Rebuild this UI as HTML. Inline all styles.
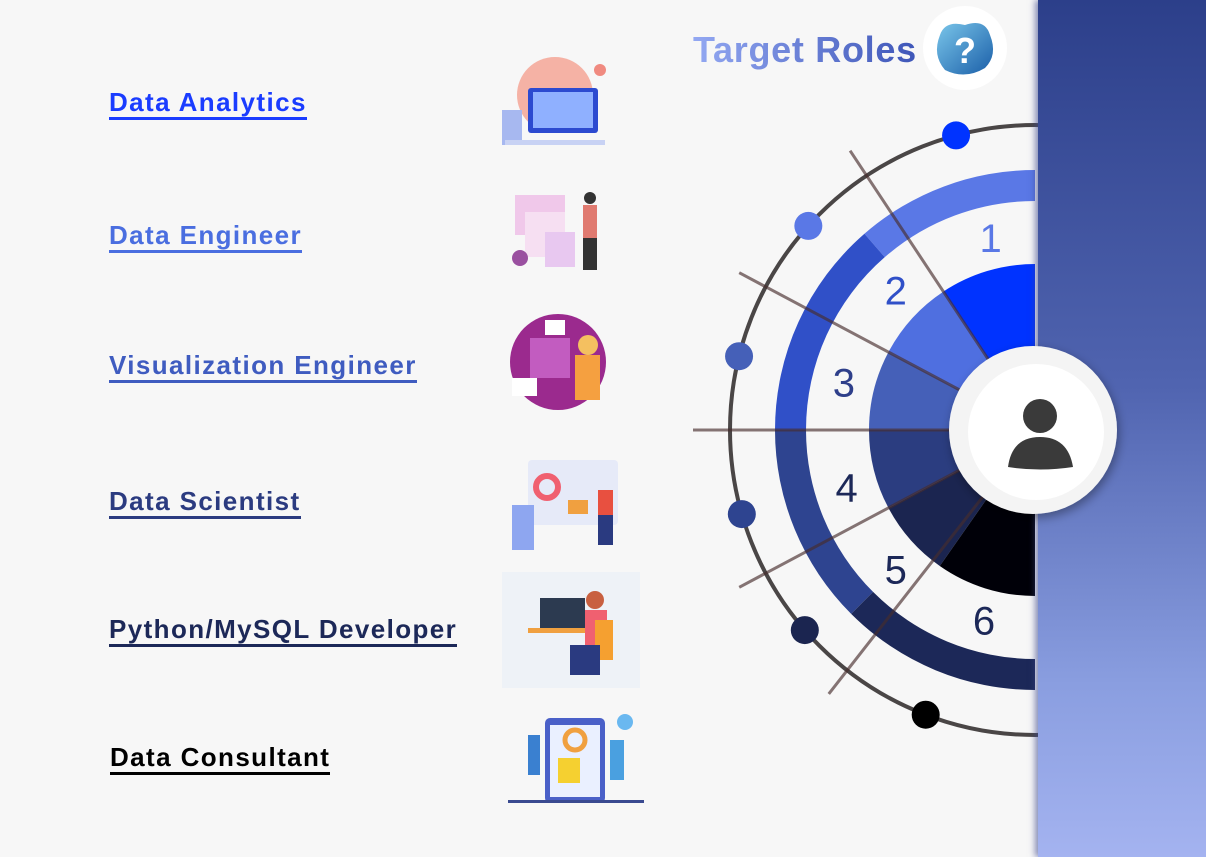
<!DOCTYPE html>
<html><head><meta charset="utf-8">
<style>
html,body{margin:0;padding:0;}
body{width:1206px;height:857px;background:#f7f7f7;position:relative;overflow:hidden;font-family:"Liberation Sans",sans-serif;}
.lbl{position:absolute;font-weight:bold;font-size:26px;letter-spacing:1.4px;white-space:nowrap;padding-bottom:1px;border-bottom:3px solid currentColor;line-height:28px;}
#panel{position:absolute;left:1038px;top:0;width:168px;height:857px;background:linear-gradient(#2c3f8a,#5064b0 45%,#8a9ee0 80%,#a4b3f0);box-shadow:-3px 0 6px rgba(60,70,140,0.6);}
svg{position:absolute;left:0;top:0;}
</style></head><body>
<div class="lbl" style="left:109px;top:88px;color:#1a3cff">Data Analytics</div>
<div class="lbl" style="left:109px;top:221px;color:#4a6ee0">Data Engineer</div>
<div class="lbl" style="left:109px;top:351px;color:#3f5cc0">Visualization Engineer</div>
<div class="lbl" style="left:109px;top:487px;color:#2b3b80">Data Scientist</div>
<div class="lbl" style="left:109px;top:615px;color:#1c2858">Python/MySQL Developer</div>
<div class="lbl" style="left:110px;top:743px;color:#000">Data Consultant</div>

<svg width="1206" height="857">
 <g>
  <circle cx="555" cy="95" r="38" fill="#f4a090" opacity="0.8"/>
  <rect x="528" y="88" width="70" height="45" rx="3" fill="#2c4ad0"/>
  <rect x="533" y="92" width="60" height="36" fill="#8fb0ff"/>
  <rect x="502" y="110" width="20" height="35" fill="#a7b8f0"/>
  <rect x="505" y="140" width="100" height="5" fill="#c8d2f4"/>
  <circle cx="600" cy="70" r="6" fill="#f08a80"/>
 </g>
 <g>
  <rect x="515" y="195" width="50" height="40" fill="#f0c8ea"/>
  <rect x="525" y="212" width="40" height="45" fill="#f6dff2"/>
  <rect x="545" y="232" width="30" height="35" fill="#e8c8f0"/>
  <rect x="583" y="205" width="14" height="35" fill="#e07a70"/>
  <rect x="583" y="238" width="14" height="32" fill="#333"/>
  <circle cx="590" cy="198" r="6" fill="#333"/>
  <circle cx="520" cy="258" r="8" fill="#9a50a0"/>
 </g>
 <g>
  <circle cx="558" cy="362" r="48" fill="#9b2a8e"/>
  <rect x="530" y="338" width="40" height="40" fill="#c25cc0"/>
  <rect x="575" y="355" width="25" height="45" fill="#f5a040"/>
  <circle cx="588" cy="345" r="10" fill="#f4c060"/>
  <rect x="512" y="378" width="25" height="18" fill="#fff"/>
  <rect x="545" y="320" width="20" height="15" fill="#fff"/>
 </g>
 <g>
  <rect x="528" y="460" width="90" height="65" rx="4" fill="#e6eaf8"/>
  <circle cx="547" cy="487" r="11" fill="none" stroke="#f06070" stroke-width="6"/>
  <rect x="568" y="500" width="20" height="14" fill="#f0a040"/>
  <rect x="512" y="505" width="22" height="45" fill="#8ea6f0"/>
  <rect x="598" y="490" width="15" height="25" fill="#e85040"/>
  <rect x="598" y="515" width="15" height="30" fill="#2a3a80"/>
 </g>
 <g>
  <rect x="502" y="572" width="138" height="116" fill="#eef2f7"/>
  <rect x="540" y="598" width="45" height="32" fill="#2c3a50"/>
  <rect x="528" y="628" width="80" height="5" fill="#f0a040"/>
  <circle cx="595" cy="600" r="9" fill="#c86040"/>
  <rect x="585" y="610" width="22" height="35" fill="#f06070"/>
  <rect x="595" y="620" width="18" height="40" fill="#f5a030"/>
  <rect x="570" y="645" width="30" height="30" fill="#2a3a80"/>
 </g>
 <g>
  <rect x="545" y="718" width="60" height="85" rx="5" fill="#4a60c8"/>
  <rect x="550" y="725" width="50" height="72" fill="#eaf0ff"/>
  <circle cx="575" cy="740" r="10" fill="none" stroke="#f0a040" stroke-width="5"/>
  <rect x="558" y="758" width="22" height="25" fill="#f5d030"/>
  <rect x="528" y="735" width="12" height="40" fill="#3a80d0"/>
  <rect x="610" y="740" width="14" height="40" fill="#4aa0e0"/>
  <circle cx="625" cy="722" r="8" fill="#6ab8f0"/>
  <rect x="508" y="800" width="136" height="3" fill="#3a4a90"/>
 </g>
</svg>

<svg id="wheel" width="1206" height="857"></svg>
<div id="panel"></div>
<svg id="top" width="1206" height="857" style="pointer-events:none">
 <defs>
  <linearGradient id="tg" x1="0" x2="1"><stop offset="0" stop-color="#93a8f2"/><stop offset="1" stop-color="#3e56b8"/></linearGradient>
  <linearGradient id="qg" x1="0" y1="0" x2="1" y2="1"><stop offset="0" stop-color="#7ac6ea"/><stop offset="1" stop-color="#1a5ea8"/></linearGradient>
  <filter id="sh" x="-30%" y="-30%" width="160%" height="160%"><feDropShadow dx="2" dy="4" stdDeviation="5" flood-color="#000" flood-opacity="0.35"/></filter>
 </defs>
 <text x="693" y="62" font-family="Liberation Sans, sans-serif" font-weight="bold" font-size="36" letter-spacing="0.7" fill="url(#tg)">Target Roles</text>
 <g>
  <circle cx="965" cy="48" r="42" fill="#fff"/>
  <path d="M940 35 Q945 20 965 25 Q985 18 990 35 Q998 55 985 68 Q965 80 945 70 Q932 55 940 35Z" fill="url(#qg)"/>
  <text x="965" y="63" text-anchor="middle" font-family="Liberation Sans, sans-serif" font-weight="bold" font-size="36" fill="#fff">?</text>
 </g>
 <g>
  <circle cx="1033" cy="430" r="84" fill="#f4f4f4" filter="url(#sh)"/>
  <circle cx="1036" cy="432" r="68" fill="#fff"/>
  <circle cx="1040" cy="416" r="17" fill="#3a3a3a"/>
  <path d="M1008 467 Q1012 437 1040 437 Q1068 437 1073 467 Q1040 472 1008 467Z" fill="#3a3a3a"/>
 </g>
</svg>

<script>
const roleNumbers = ["1","2","3","4","5","6"];
const sectorEdges = [0, 33.5, 62, 90, 118, 145, 180];
const sectorColors = ["#0033ff","#4f6fe0","#4560b8","#2b3d80","#1b2550","#000008"];
const ringEdges = [0, 41, 90, 135, 180];
const ringColors = ["#5a78e6","#3050c8","#2e4490","#1c2858"];
const numberAngles = [13, 45, 76, 107, 135, 165];
const numberColors = ["#5a78e6","#3050c8","#2e3f8a","#1c2858","#1c2858","#1c2858"];
const dotAngles = [15, 48, 76, 106, 131, 159];
const dotColors = ["#0033ff","#5a78e6","#4560b8","#2e4490","#1b2550","#000000"];
const lineAngles = [33.5, 62, 90, 118, 142];

const NS="http://www.w3.org/2000/svg", svg=document.getElementById('wheel');
const cx=1035, cy=430;
function pt(r,a){const t=a*Math.PI/180;return [cx-r*Math.sin(t), cy-r*Math.cos(t)];}
function mk(tag,attrs){const e=document.createElementNS(NS,tag);for(const k in attrs)e.setAttribute(k,attrs[k]);svg.appendChild(e);return e;}
function annulus(r0,r1,a0,a1){
 const p1=pt(r1,a0),p2=pt(r1,a1),p3=pt(r0,a1),p4=pt(r0,a0);
 const big=(a1-a0)>180?1:0;
 if(r0===0) return `M${cx} ${cy} L${p1} A${r1} ${r1} 0 ${big} 0 ${p2} Z`;
 return `M${p1} A${r1} ${r1} 0 ${big} 0 ${p2} L${p3} A${r0} ${r0} 0 ${big} 1 ${p4} Z`;
}
const oc=mk('circle',{cx:cx,cy:cy,r:305,fill:'none',stroke:'#4a4646','stroke-width':4});


ringColors.forEach((c,i)=>{
 const p=mk('path',{d:annulus(229,260,ringEdges[i],ringEdges[i+1]),fill:c});
 
 
});
sectorColors.forEach((c,i)=>{
 const p=mk('path',{d:annulus(0,166,sectorEdges[i],sectorEdges[i+1]),fill:c});
 
 
});
lineAngles.forEach((a,i)=>{
 const r=a===90?342:335;const p=pt(r,a);
 const l=mk('line',{x1:p[0],y1:p[1],x2:cx-80*Math.sin(a*Math.PI/180),y2:cy-80*Math.cos(a*Math.PI/180),stroke:'rgba(70,45,45,0.65)','stroke-width':3});
 
 
});
roleNumbers.forEach((n,i)=>{
 const p=pt(197,numberAngles[i]);
 const t=mk('text',{x:p[0],y:p[1]+14,'text-anchor':'middle','font-family':'Liberation Sans, sans-serif','font-size':40,fill:numberColors[i]});
 t.textContent=n;
 
 
});
dotAngles.forEach((a,i)=>{
 const p=pt(305,a);
 const d=mk('circle',{cx:p[0],cy:p[1],r:14,fill:dotColors[i]});
 
 
});
</script>
</body></html>
